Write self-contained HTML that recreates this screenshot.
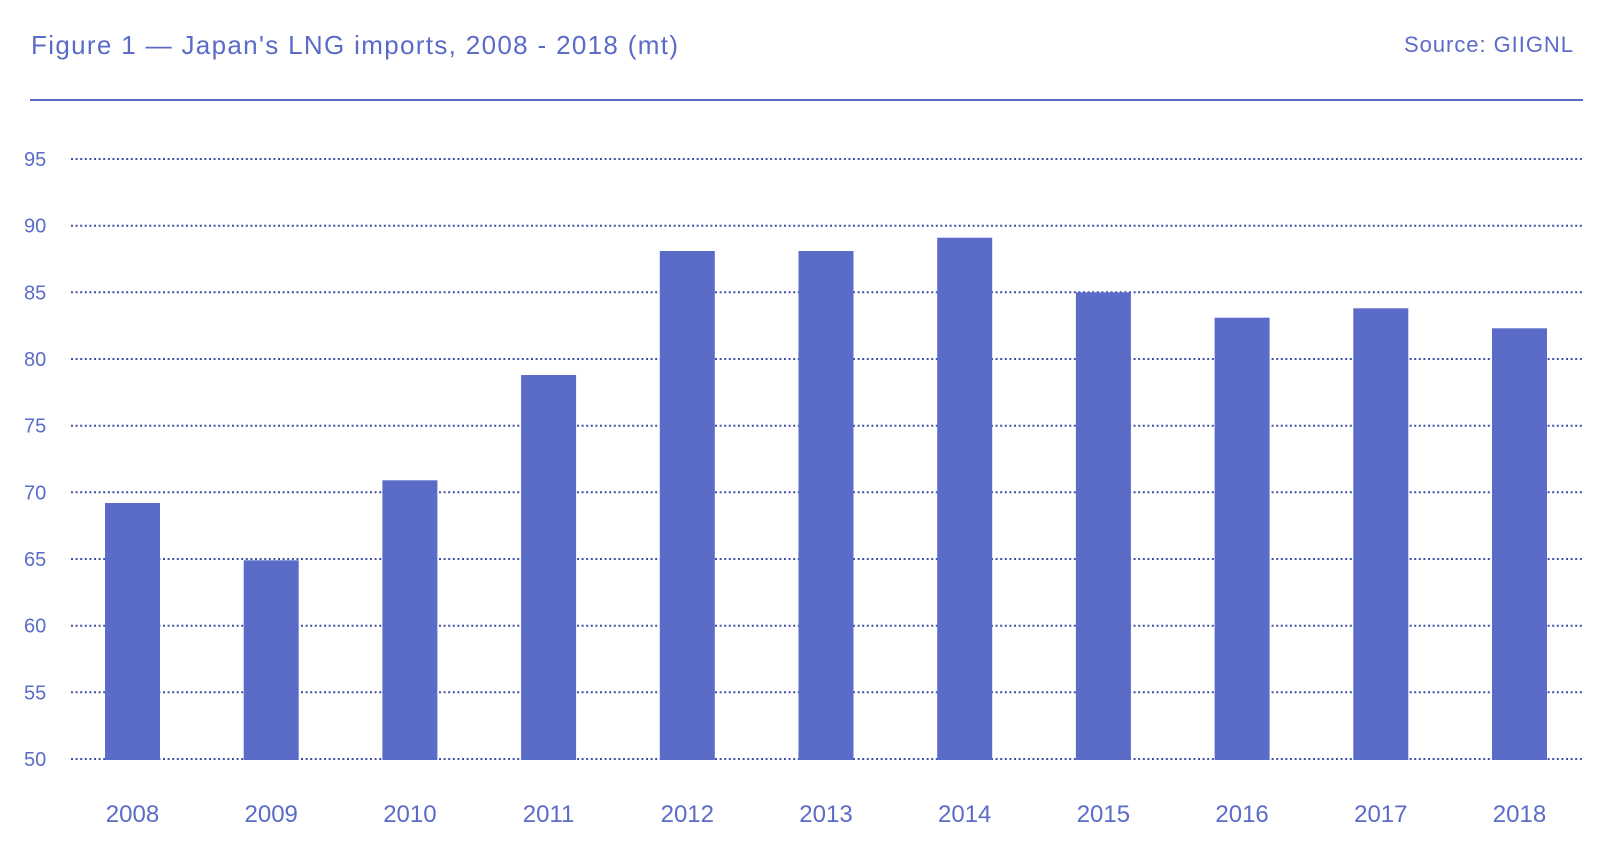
<!DOCTYPE html>
<html><head><meta charset="utf-8"><style>
html,body{margin:0;padding:0;background:#fff;}
svg{display:block;font-family:"Liberation Sans",sans-serif;}
</style></head><body>
<svg width="1614" height="854" viewBox="0 0 1614 854" xmlns="http://www.w3.org/2000/svg">
<text x="31" y="54" font-size="26" fill="#5b6bc8" textLength="647" lengthAdjust="spacing">Figure 1 — Japan's LNG imports, 2008 - 2018 (mt)</text>
<text x="1404" y="52" font-size="22" fill="#5b6bc8" textLength="169" lengthAdjust="spacing">Source: GIIGNL</text>
<rect x="30" y="99" width="1553" height="2" fill="#5b6bc8"/>
<g stroke="#3f51a8" stroke-width="2" stroke-dasharray="2,2.6">
<line x1="71" x2="1582" y1="159" y2="159"/>
<line x1="71" x2="1582" y1="225.7" y2="225.7"/>
<line x1="71" x2="1582" y1="292.3" y2="292.3"/>
<line x1="71" x2="1582" y1="359" y2="359"/>
<line x1="71" x2="1582" y1="425.7" y2="425.7"/>
<line x1="71" x2="1582" y1="492.3" y2="492.3"/>
<line x1="71" x2="1582" y1="559" y2="559"/>
<line x1="71" x2="1582" y1="625.7" y2="625.7"/>
<line x1="71" x2="1582" y1="692.3" y2="692.3"/>
<line x1="71" x2="1582" y1="759" y2="759"/>
</g>
<g font-size="20" fill="#5b6bc8">
<text x="24" y="166">95</text>
<text x="24" y="232.7">90</text>
<text x="24" y="299.3">85</text>
<text x="24" y="366">80</text>
<text x="24" y="432.7">75</text>
<text x="24" y="499.3">70</text>
<text x="24" y="566">65</text>
<text x="24" y="632.7">60</text>
<text x="24" y="699.3">55</text>
<text x="24" y="766">50</text>
</g>
<g fill="#5b6bc8">
<rect x="105" y="503" width="55" height="257"/>
<rect x="243.7" y="560.3" width="55" height="199.7"/>
<rect x="382.4" y="480.3" width="55" height="279.7"/>
<rect x="521.1" y="375" width="55" height="385"/>
<rect x="659.8" y="251" width="55" height="509"/>
<rect x="798.5" y="251" width="55" height="509"/>
<rect x="937.2" y="237.7" width="55" height="522.3"/>
<rect x="1075.9" y="292.3" width="55" height="467.7"/>
<rect x="1214.6" y="317.7" width="55" height="442.3"/>
<rect x="1353.3" y="308.3" width="55" height="451.7"/>
<rect x="1492" y="328.3" width="55" height="431.7"/>
</g>
<g font-size="24" fill="#5b6bc8" text-anchor="middle">
<text x="132.5" y="822">2008</text>
<text x="271.2" y="822">2009</text>
<text x="409.9" y="822">2010</text>
<text x="548.6" y="822">2011</text>
<text x="687.3" y="822">2012</text>
<text x="826" y="822">2013</text>
<text x="964.7" y="822">2014</text>
<text x="1103.4" y="822">2015</text>
<text x="1242.1" y="822">2016</text>
<text x="1380.8" y="822">2017</text>
<text x="1519.5" y="822">2018</text>
</g>
</svg>
</body></html>
